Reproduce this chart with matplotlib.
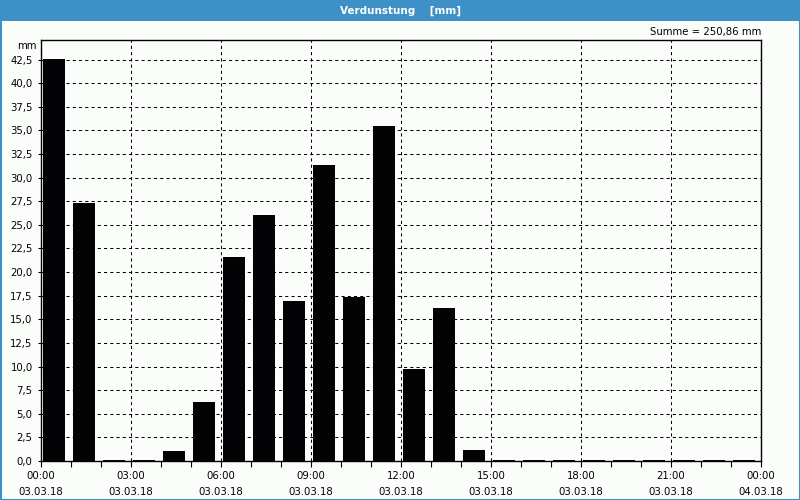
import matplotlib
matplotlib.use('Agg')
import matplotlib.pyplot as plt
from matplotlib.patches import Rectangle
import numpy as np

#%% Daten (Stundenwerte 03.03.18)

stunden = np.arange(24)
verdunstung = [42.55, 27.31, 0.15, 0.15, 1.09, 6.25, 21.6, 26.04, 16.94, 31.33, 17.4, 35.46,
               9.74, 16.2, 1.16, 0.15, 0.15, 0.15, 0.15, 0.15, 0.15, 0.15, 0.15, 0.15]

x_ticks = [0, 3, 6, 9, 12, 15, 18, 21, 24]
x_labels = ['00:00\n03.03.18', '03:00\n03.03.18', '06:00\n03.03.18', '09:00\n03.03.18',
            '12:00\n03.03.18', '15:00\n03.03.18', '18:00\n03.03.18', '21:00\n03.03.18',
            '00:00\n04.03.18']
y_ticks = np.arange(0, 42.6, 2.5)
y_labels = [f'{v:.1f}'.replace('.', ',') for v in y_ticks]

titel = 'Verdunstung    [mm]'
summe_text = 'Summe = 250,86 mm'

#%% Farben
bar_blue = (61/255, 145/255, 199/255)
bg = (251/255, 253/255, 251/255)

#%% Plot
plt.rcParams['font.family'] = ['DejaVu Sans']
fig = plt.figure(figsize=(8, 5), dpi=100, facecolor=bg)

# Titelbalken + Rahmen
fig.patches.append(Rectangle((0, 1 - 21/500), 1, 21/500, transform=fig.transFigure,
                             facecolor=bar_blue, edgecolor='none', zorder=0))
fig.patches.append(Rectangle((0.5/800, 0.5/500), 799/800, 499/500, transform=fig.transFigure,
                             facecolor='none', edgecolor=bar_blue, lw=1.5, zorder=0))
fig.text(0.5, 1 - 10.5/500, titel, color='white', fontsize=7.5, fontweight='bold',
         ha='center', va='center')

ax = fig.add_axes([41/800, 39/500, 720/800, 421/500])
ax.set_facecolor(bg)
ax.bar(stunden + 0.42, verdunstung, width=0.73, color=(3/255, 2/255, 5/255), zorder=3)

ax.set_xlim(0, 24)
ax.set_ylim(0, 44.57)
ax.set_xticks(x_ticks)
ax.set_xticklabels(x_labels, fontsize=7.3, linespacing=1.75)
ax.set_xticks(np.arange(25), minor=True)
ax.set_yticks(y_ticks)
ax.set_yticklabels(y_labels, fontsize=7.3)
ax.tick_params(axis='x', which='both', direction='out', length=4, width=0.8, pad=3)
ax.tick_params(axis='y', length=2, width=0.8, pad=4)

ax.grid(True, which='major', color='black', ls=(0, (3, 3)), lw=0.75, zorder=1)
for s in ax.spines.values():
    s.set_linewidth(1.0)
    s.set_color('black')

fig.text(37/800, 1 - 46/500, 'mm', fontsize=7.3, ha='right', va='center')
fig.text(761/800, 1 - 32/500, summe_text, fontsize=7.3, ha='right', va='center')

fig.savefig('out.png', dpi=100, facecolor=bg)
